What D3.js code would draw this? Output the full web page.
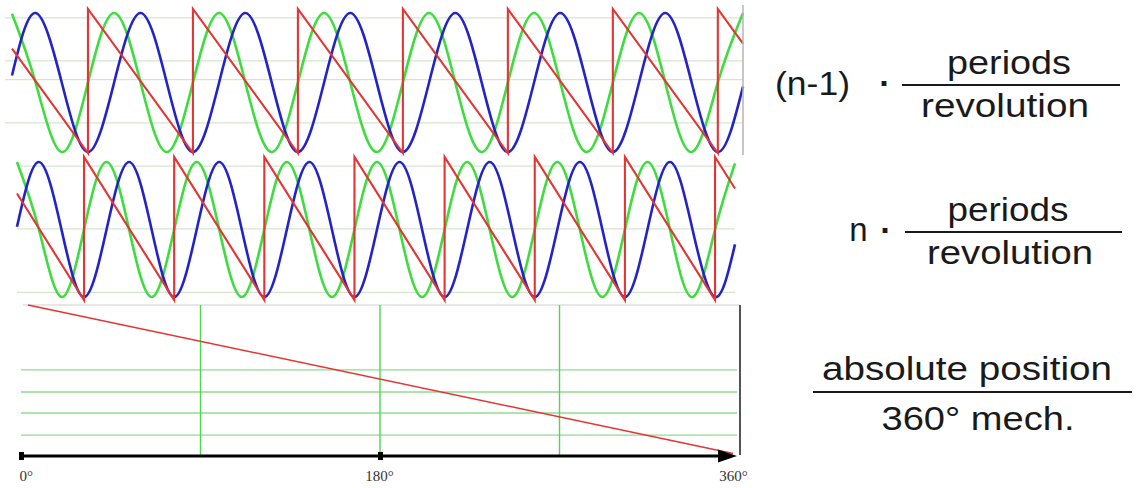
<!DOCTYPE html>
<html><head><meta charset="utf-8">
<script src="https://cdn.jsdelivr.net/npm/d3@7"></script>
<style>html,body{margin:0;padding:0;background:#fff;} svg{display:block;}</style>
</head><body>
<script>
// ---------- DATA (mechanical angle in degrees, normalized signal levels) ----------
// Top panel: (n-1) = 7 periods per revolution
const topAngles = [0, 11.6, 24.5, 37.4, 50.3, 63.3, 76.2, 89.1, 102.0, 114.9, 127.9, 140.8, 153.7, 166.6, 179.6, 192.5, 205.4, 218.3, 231.3, 244.2, 257.1, 270.0, 283.0, 295.9, 308.8, 321.7, 334.7, 347.6, 360];
const topBlue   = [0.1, 1, 0, -1, 0, 1, 0, -1, 0, 1, 0, -1, 0, 1, 0, -1, 0, 1, 0, -1, 0, 1, 0, -1, 0, 1, 0, -1, -0.06];
const topGreen  = [0.99, 0, -1, 0, 1, 0, -1, 0, 1, 0, -1, 0, 1, 0, -1, 0, 1, 0, -1, 0, 1, 0, -1, 0, 1, 0, -1, 0, 1];
const topRedAngles = [0, 37.4, 37.4, 89.1, 89.1, 140.8, 140.8, 192.5, 192.5, 244.2, 244.2, 295.9, 295.9, 347.6, 347.6, 360];
const topRed       = [0.45, -1, 1, -1, 1, -1, 1, -1, 1, -1, 1, -1, 1, -1, 1, 0.52];
const topGrid = [0.93, 0.31, 0.04, -0.58];

// Middle panel: n = 8 periods per revolution
const midAngles = [0, 11.0, 22.3, 33.6, 44.9, 56.2, 67.5, 78.8, 90.1, 101.4, 112.7, 124.0, 135.3, 146.6, 157.9, 169.2, 180.5, 191.8, 203.1, 214.4, 225.7, 237.0, 248.3, 259.6, 270.9, 282.2, 293.5, 304.8, 316.1, 327.4, 338.7, 350.0, 360];
const midBlue   = [0.04, 1, 0, -1, 0, 1, 0, -1, 0, 1, 0, -1, 0, 1, 0, -1, 0, 1, 0, -1, 0, 1, 0, -1, 0, 1, 0, -1, 0, 1, 0, -1, -0.22];
const midGreen  = [1.0, 0, -1, 0, 1, 0, -1, 0, 1, 0, -1, 0, 1, 0, -1, 0, 1, 0, -1, 0, 1, 0, -1, 0, 1, 0, -1, 0, 1, 0, -1, 0, 0.98];
const midRedAngles = [0, 33.6, 33.6, 78.8, 78.8, 124.0, 124.0, 169.2, 169.2, 214.4, 214.4, 259.6, 259.6, 304.8, 304.8, 350.0, 350.0, 360];
const midRed       = [0.49, -1, 1, -1, 1, -1, 1, -1, 1, -1, 1, -1, 1, -1, 1, -1, 1, 0.56];
const midGrid = [0.94, 0.01, -0.93];

// Bottom panel: absolute position over one mechanical revolution
const absAngles = [3.5, 357];
const absValues = [1.0, 0.01];
const botGridH = [0.567, 0.42, 0.28, 0.133];
const botGridV = [90, 180, 270];
const axisTicks = [0, 180, 360];
const axisLabels = ["0°", "180°", "360°"];

const formulaTexts = ["(n-1)", "periods", "revolution", "n", "periods", "revolution", "absolute position", "360° mech."];

// ---------- DRAWING ----------
const W = 1137, H = 488;
const svg = d3.select("body").append("svg").attr("width", W).attr("height", H);
svg.append("rect").attr("width", W).attr("height", H).attr("fill", "#fff");

const BLUE = "#2323c6", GREEN = "#3fdc3f", RED = "#e43434";
const GRID = "#d3e6cc";

const xTop = d3.scaleLinear([0, 360], [12, 743]);
const yTop = d3.scaleLinear([-1, 1], [152, 13]);
const yTopRed = d3.scaleLinear([-1, 1], [153, 9]);
const xMid = d3.scaleLinear([0, 360], [17, 735]);
const yMid = d3.scaleLinear([-1, 1], [297, 162]);
const yMidRed = d3.scaleLinear([-1, 1], [300, 157]);
const xBot = d3.scaleLinear([0, 360], [21, 739]);
const yBot = d3.scaleLinear([0, 1], [455, 305]);

function zip(a, v) { return a.map((d, i) => ({a: d, v: v[i]})); }

function panel(x, y, yRed, angles, blue, green, redA, red, grid, gx0) {
  const g = svg.append("g");
  g.selectAll("line.grid").data(grid).join("line")
    .attr("x1", gx0).attr("x2", x(360))
    .attr("y1", d => y(d)).attr("y2", d => y(d))
    .attr("stroke", GRID).attr("stroke-width", 1.3);
  const sine = d3.line().x(d => x(d.a)).y(d => y(d.v)).curve(d3.curveNatural);
  const saw = d3.line().x(d => x(d.a)).y(d => yRed(d.v));
  g.append("path").attr("d", sine(zip(angles, green))).attr("fill", "none")
    .attr("stroke", GREEN).attr("stroke-width", 2.6);
  g.append("path").attr("d", sine(zip(angles, blue))).attr("fill", "none")
    .attr("stroke", BLUE).attr("stroke-width", 2.6);
  g.append("path").attr("d", saw(zip(redA, red))).attr("fill", "none")
    .attr("stroke", RED).attr("stroke-width", 2.1);
  return g;
}

panel(xTop, yTop, yTopRed, topAngles, topBlue, topGreen, topRedAngles, topRed, topGrid, 5);
// right border of the top panel
svg.append("line").attr("x1", xTop(360)).attr("x2", xTop(360)).attr("y1", 5).attr("y2", 155)
  .attr("stroke", "#b4b4b4").attr("stroke-width", 1.5);

panel(xMid, yMid, yMidRed, midAngles, midBlue, midGreen, midRedAngles, midRed, midGrid, 17);

// Bottom panel
const gb = svg.append("g");
gb.append("line").attr("x1", xBot(0) + 2).attr("x2", xBot(360) + 1).attr("y1", yBot(1)).attr("y2", yBot(1))
  .attr("stroke", "#cfcfcf").attr("stroke-width", 1.2);
gb.selectAll("line.h").data(botGridH).join("line")
  .attr("x1", xBot(0)).attr("x2", xBot(360) - 2)
  .attr("y1", d => yBot(d)).attr("y2", d => yBot(d))
  .attr("stroke", "#8fdc8f").attr("stroke-width", 1.3);
gb.selectAll("line.v").data(botGridV).join("line")
  .attr("x1", d => xBot(d)).attr("x2", d => xBot(d))
  .attr("y1", yBot(1)).attr("y2", yBot(0))
  .attr("stroke", "#4ed84e").attr("stroke-width", 1.4);
gb.append("line").attr("x1", xBot(360) + 1).attr("x2", xBot(360) + 1).attr("y1", yBot(1)).attr("y2", yBot(0))
  .attr("stroke", "#2a2a2a").attr("stroke-width", 1.6);
gb.append("path")
  .attr("d", d3.line().x(d => xBot(d.a)).y(d => yBot(d.v))(zip(absAngles, absValues)))
  .attr("fill", "none").attr("stroke", RED).attr("stroke-width", 1.5);

// Axis
const axisY = 456;
const axis = d3.axisBottom(xBot).tickValues(axisTicks)
  .tickFormat((d, i) => axisLabels[i]).tickSize(0).tickSizeOuter(0).tickPadding(14);
const ga = svg.append("g").attr("transform", `translate(0,${axisY})`).call(axis);
ga.select(".domain").attr("d", `M${xBot(0)},0H${xBot(360) - 14}`).attr("stroke", "#000").attr("stroke-width", 3.2);
ga.selectAll(".tick line").attr("y1", -4).attr("y2", 4)
  .attr("stroke", "#000").attr("stroke-width", d => d === 360 ? 0 : 5);
ga.selectAll(".tick text")
  .attr("font-family", "'Liberation Serif', 'Times New Roman', serif")
  .attr("font-size", 15).attr("fill", "#333")
  .attr("text-anchor", d => d === 0 ? "start" : "middle")
  .attr("dx", d => d === 0 ? -2 : (d === 360 ? -6 : -1));
ga.append("path")
  .attr("d", `M${xBot(360) - 2},0L${xBot(360) - 21},-6.5L${xBot(360) - 21},6.5Z`)
  .attr("fill", "#000");

// Formulas on the right
const FONT = "'Liberation Sans', Arial, Helvetica, sans-serif";
const tpos = [
  {x: 812.5, y: 95, w: 75},
  {x: 1009, y: 74, w: 124},
  {x: 1005, y: 117, w: 168},
  {x: 858.5, y: 241, w: 0},
  {x: 1008, y: 221, w: 121},
  {x: 1010, y: 264, w: 166},
  {x: 967, y: 380, w: 290},
  {x: 978, y: 430, w: 193}
];
const gt = svg.append("g").attr("font-family", FONT).attr("font-size", 33).attr("fill", "#1a1a1a");
formulaTexts.forEach((t, i) => {
  const p = tpos[i];
  const el = gt.append("text").attr("x", p.x).attr("y", p.y).attr("text-anchor", "middle").text(t);
  if (p.w) el.attr("textLength", p.w).attr("lengthAdjust", "spacingAndGlyphs");
});
[[885, 95], [886, 242]].forEach(([x, y]) => {
  gt.append("text").attr("x", x).attr("y", y).attr("text-anchor", "middle")
    .attr("font-weight", "bold").attr("font-size", 34).text("·");
});
[[902, 1120, 85], [905, 1122, 232], [813, 1132, 392]].forEach(([x1, x2, y]) => {
  gt.append("line").attr("x1", x1).attr("x2", x2).attr("y1", y).attr("y2", y)
    .attr("stroke", "#1a1a1a").attr("stroke-width", 2);
});
</script>
</body></html>
